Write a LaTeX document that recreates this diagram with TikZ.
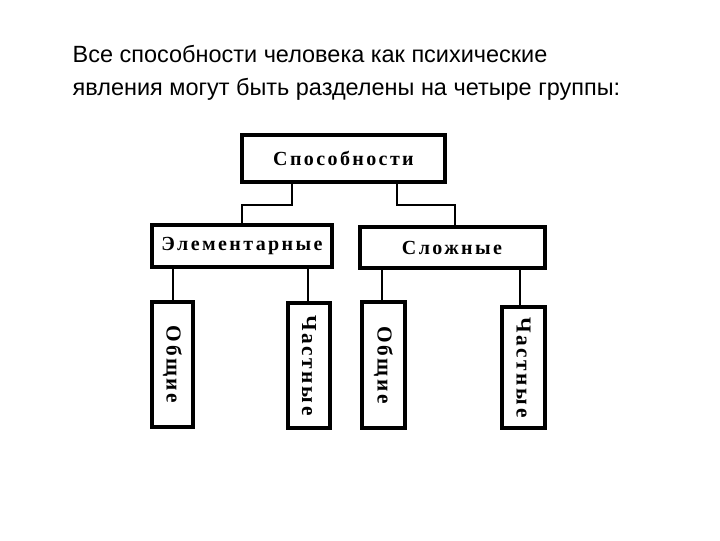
\documentclass[tikz,border=0pt]{standalone}
\usepackage{fontspec}
\setmainfont{Liberation Serif}
\newfontfamily\hdr{Liberation Sans}
\newfontfamily\spaced[LetterSpace=12]{Liberation Serif}
\begin{document}
\begin{tikzpicture}[x=0.75pt,y=-0.75pt,
  bx/.style={draw,line width=2.4pt,inner sep=0pt},
  ln/.style={line width=1.2pt},
  lbl/.style={font=\spaced\fontsize{15}{17}\selectfont\bfseries},
  vlbl/.style={font=\spaced\fontsize{16}{19}\selectfont\bfseries,rotate=-90}]
\useasboundingbox (0,0) rectangle (720,540);
\node[anchor=base west,font=\hdr\fontsize{17.6}{20}\selectfont] (t1) at (68,62) {Все способности человека как психические};
\node[anchor=base west,font=\hdr\fontsize{17.6}{20}\selectfont] (t2) at (68,95) {явления могут быть разделены на четыре группы:};
\draw[bx] (242,135) rectangle (445,182);
\node[lbl] (top) at (343.5,158.5) {Способности};
\draw[bx] (152,225) rectangle (332,267);
\node[lbl] (el) at (242,246) {Элементарные};
\draw[bx] (360,227) rectangle (545,268);
\node[lbl] (sl) at (452,247.5) {Сложные};
\draw[bx] (152,302) rectangle (193,427);
\node[vlbl] (a) at (172.5,364.5) {Общие};
\draw[bx] (288,303) rectangle (330,428);
\node[vlbl] (b) at (309,365.5) {Частные};
\draw[bx] (362,302) rectangle (405,428);
\node[vlbl] (c) at (383.5,365) {Общие};
\draw[bx] (502,307) rectangle (545,428);
\node[vlbl] (d) at (523.5,367.5) {Частные};
\draw[ln] (292,182) -- (292,205) -- (242,205) -- (242,225);
\draw[ln] (397,182) -- (397,205) -- (455,205) -- (455,227);
\draw[ln] (173,267) -- (173,302);
\draw[ln] (308,267) -- (308,303);
\draw[ln] (382,268) -- (382,302);
\draw[ln] (520,268) -- (520,307);
\end{tikzpicture}
\end{document}
